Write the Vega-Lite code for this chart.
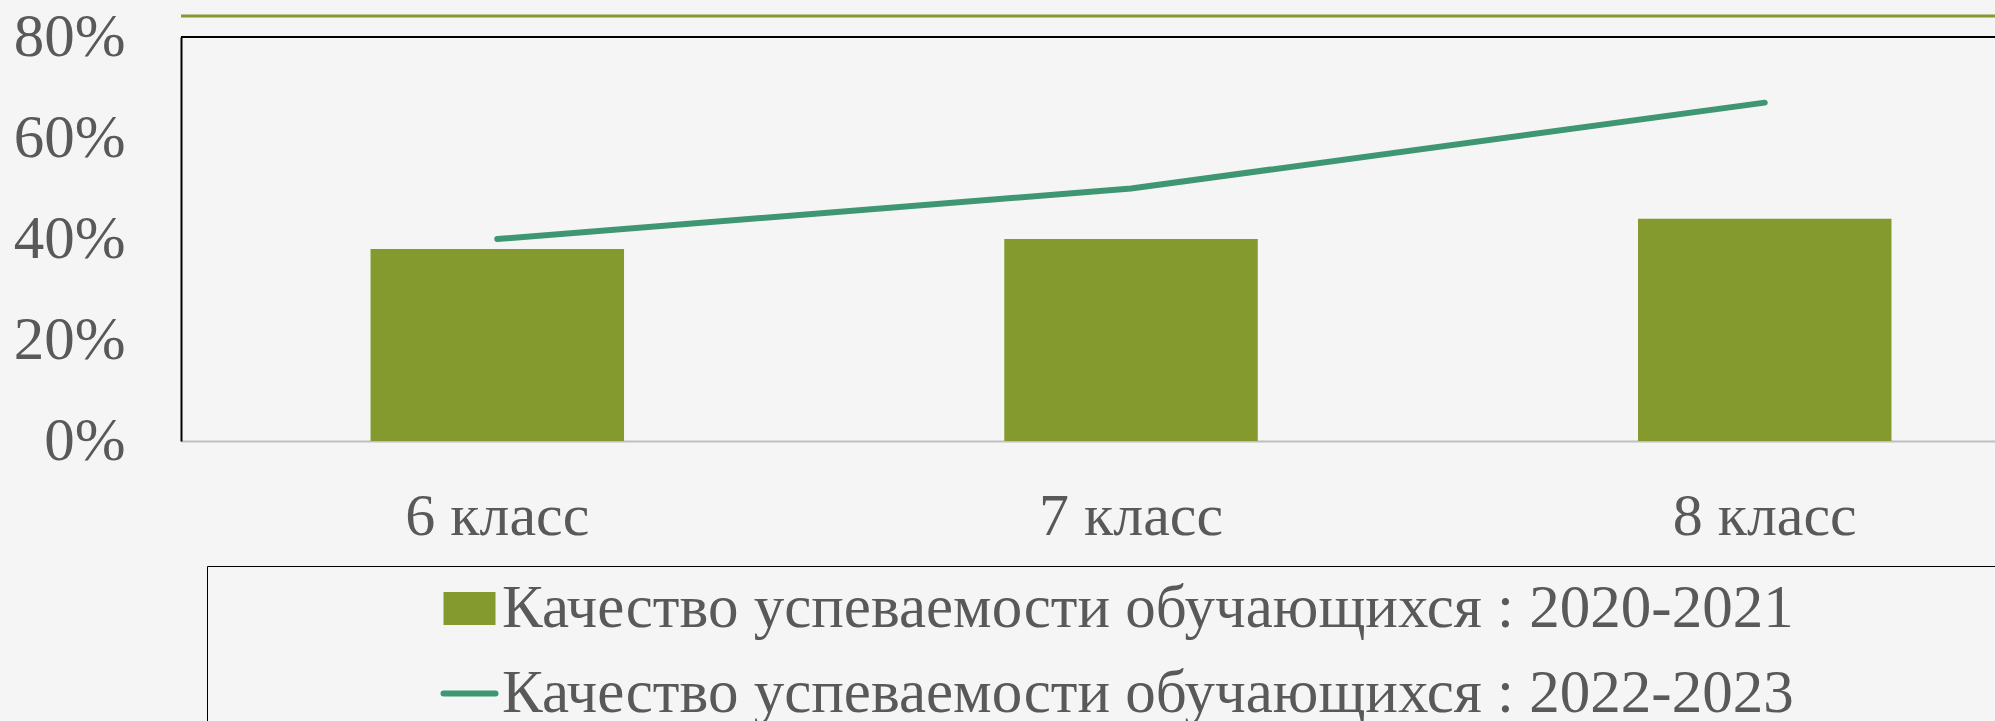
{
  "$schema": "https://vega.github.io/schema/vega-lite/v6.json",
  "autosize": {"type": "none"},
  "width": 1814,
  "height": 404,
  "padding": {"left": 181, "top": 37, "right": 0, "bottom": 280},
  "background": "#f5f5f5",
  "config": {"view": {"stroke": null}, "font": "Liberation Serif"},
  "data": {
    "values": [
      {"klass": "6 класс", "series": "Качество успеваемости обучающихся : 2020-2021", "value": 0.38},
      {"klass": "7 класс", "series": "Качество успеваемости обучающихся : 2020-2021", "value": 0.40},
      {"klass": "8 класс", "series": "Качество успеваемости обучающихся : 2020-2021", "value": 0.44},
      {"klass": "6 класс", "series": "Качество успеваемости обучающихся : 2022-2023", "value": 0.40},
      {"klass": "7 класс", "series": "Качество успеваемости обучающихся : 2022-2023", "value": 0.50},
      {"klass": "8 класс", "series": "Качество успеваемости обучающихся : 2022-2023", "value": 0.67}
    ]
  },
  "layer": [
    {
      "transform": [{"filter": "datum.series === 'Качество успеваемости обучающихся : 2020-2021'"}],
      "mark": {"type": "bar"},
      "encoding": {
        "x": {
          "field": "klass", "type": "nominal", "sort": null,
          "scale": {"paddingInner": 0.6, "paddingOuter": 0.2312, "align": 0.6468},
          "axis": {
            "title": null, "labelAngle": 0, "labelFontSize": 60, "labelColor": "#595959",
            "labelFont": "Liberation Serif", "labelPadding": 46, "ticks": false, "tickSize": 0,
            "labelLimit": 1000, "domainColor": "#bfbfbf", "domainWidth": 2, "grid": false
          }
        },
        "y": {
          "field": "value", "type": "quantitative",
          "scale": {"domain": [0, 0.8], "nice": false},
          "axis": {
            "title": null, "values": [0, 0.2, 0.4, 0.6, 0.8], "format": ".0%",
            "labelFontSize": 61, "labelColor": "#595959", "labelFont": "Liberation Serif",
            "labelPadding": 56, "ticks": false, "tickSize": 0, "grid": false,
            "domainColor": "#000000", "domainWidth": 2
          }
        },
        "color": {
          "field": "series", "type": "nominal",
          "scale": {
            "domain": ["Качество успеваемости обучающихся : 2020-2021", "Качество успеваемости обучающихся : 2022-2023"],
            "range": ["#849A2E", "#3E9672"]
          },
          "legend": {
            "orient": "none", "legendX": 26, "legendY": 529, "direction": "vertical",
            "title": "MMMMM", "titleOrient": "right", "titleFontSize": 60, "titlePadding": 0,
            "titleLimit": 2000, "titleOpacity": 0, "titleColor": "transparent",
            "strokeColor": "#000000", "padding": 12,
            "symbolSize": 2704, "symbolStrokeWidth": 0,
            "symbolOffset": 220, "labelOffset": 2,
            "labelFontSize": 61, "labelColor": "#595959", "labelFont": "Liberation Serif",
            "labelLimit": 3000, "rowPadding": 23,
            "encode": {
              "symbols": {
                "update": {
                  "shape": {"signal": "datum.value === 'Качество успеваемости обучающихся : 2022-2023' ? 'M-1,0H1' : 'M-1,-0.635H1V0.635H-1Z'"},
                  "fill": {"signal": "datum.value === 'Качество успеваемости обучающихся : 2022-2023' ? 'transparent' : '#849A2E'"},
                  "stroke": {"signal": "datum.value === 'Качество успеваемости обучающихся : 2022-2023' ? '#3E9672' : 'transparent'"},
                  "strokeWidth": {"signal": "datum.value === 'Качество успеваемости обучающихся : 2022-2023' ? 6 : 0"},
                  "strokeCap": {"value": "round"},
                  "size": {"value": 2704},
                  "opacity": {"value": 1}
                }
              }
            }
          }
        }
      }
    },
    {
      "transform": [{"filter": "datum.series === 'Качество успеваемости обучающихся : 2022-2023'"}],
      "mark": {"type": "line", "strokeWidth": 6, "strokeCap": "round"},
      "encoding": {
        "x": {"field": "klass", "type": "nominal", "sort": null},
        "y": {"field": "value", "type": "quantitative"},
        "color": {"field": "series", "type": "nominal"}
      }
    },
    {
      "data": {"values": [{}]},
      "mark": {"type": "rule", "color": "#000000", "strokeWidth": 2},
      "encoding": {"y": {"datum": 0.8, "type": "quantitative"}}
    },
    {
      "data": {"values": [{}]},
      "mark": {"type": "rule", "color": "#849A2E", "strokeWidth": 3},
      "encoding": {"y": {"datum": 0.8416, "type": "quantitative"}}
    }
  ]
}
